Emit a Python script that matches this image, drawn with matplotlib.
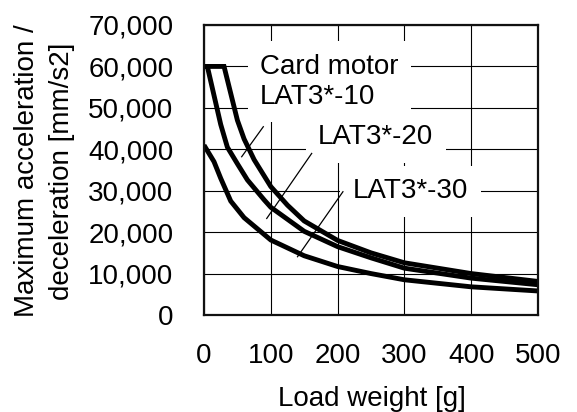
import matplotlib
matplotlib.use("Agg")
import matplotlib.pyplot as plt
import numpy as np

plt.rcParams['font.family'] = ['Liberation Sans', 'DejaVu Sans']

# Data
x_lat10 = [0, 30, 40, 50, 60, 75, 100, 125, 150, 200, 250, 300, 400, 500]
y_lat10 = [60000, 60000, 53500, 47000, 42500, 37500, 31000, 26500, 22700, 18000, 15000, 12600, 10000, 8100]

x_lat20 = [0, 5, 15, 25, 35, 50, 65, 90, 100, 150, 200, 250, 300, 400, 500]
y_lat20 = [60000, 60000, 53000, 46000, 40500, 36500, 32600, 27800, 26000, 20200, 16500, 13800, 11300, 8900, 7300]

x_lat30 = [0, 15, 25, 40, 60, 100, 150, 200, 250, 300, 400, 500]
y_lat30 = [41000, 37000, 33000, 27500, 23500, 18100, 14300, 11700, 10000, 8500, 6800, 5800]

xticks = [0, 100, 200, 300, 400, 500]
yticks = [0, 10000, 20000, 30000, 40000, 50000, 60000, 70000]
ytick_labels = ['0', '10,000', '20,000', '30,000', '40,000', '50,000', '60,000', '70,000']

# labels: text, text anchor (x, y), leader line start, leader line end
labels = [
    ('Card motor\nLAT3*-10', (84, 56300), (88.8, 45450), (56.4, 38200)),
    ('LAT3*-20', (171, 42900), (161.2, 39000), (93.9, 23300)),
    ('LAT3*-30', (223, 29900), (208, 29760), (140, 14070)),
]

fig = plt.figure(figsize=(5.77, 4.12), dpi=100)
ax = fig.add_axes([204/577, 1 - 315/412, (538-204)/577, (315-25)/412])

ax.set_xlim(0, 500)
ax.set_ylim(0, 70000)
ax.set_xticks(xticks)
ax.set_yticks(yticks)
ax.set_yticklabels(ytick_labels)
ax.tick_params(axis='both', length=0, labelsize=20)
ax.tick_params(axis='x', pad=20)
ax.tick_params(axis='y', pad=22)
ax.grid(True, color='black', linewidth=0.8, zorder=1)
ax.set_axisbelow(True)
for sp in ax.spines.values():
    sp.set_linewidth(1.6)
    sp.set_color('#111111')
    sp.set_zorder(6)

for xs, ys in [(x_lat10, y_lat10), (x_lat20, y_lat20), (x_lat30, y_lat30)]:
    ax.plot(xs, ys, color='black', linewidth=3.5, solid_joinstyle='miter',
            solid_capstyle='butt', zorder=4)

for text, pos, p0, p1 in labels:
    ax.text(pos[0], pos[1], text, fontsize=20, ha='left', va='center',
            linespacing=1.2, zorder=3,
            bbox=dict(facecolor='white', edgecolor='none', pad=9))
    ax.plot([p0[0], p1[0]], [p0[1], p1[1]], color='black', linewidth=0.9, zorder=5)

fig.text(372/577, 1 - 399/412, 'Load weight [g]', fontsize=20, ha='center', va='center')
fig.text(45/577, 1 - 171/412, 'Maximum acceleration /\ndeceleration [mm/s2]', fontsize=20,
         rotation=90, ha='center', va='center', multialignment='center', linespacing=1.45)

fig.savefig('out.png', dpi=100)
